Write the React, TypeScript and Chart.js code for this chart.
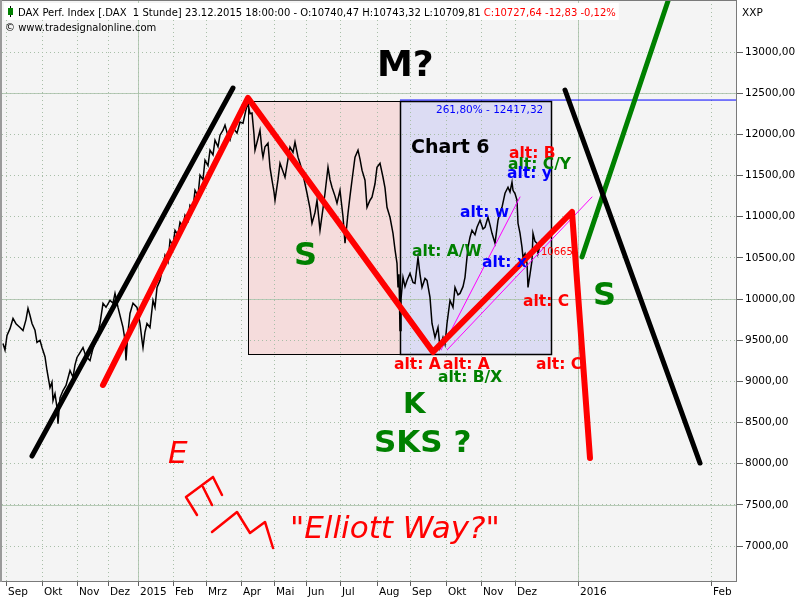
import React, { useEffect, useRef } from "react";
import { Chart, registerables } from "chart.js";

Chart.register(...registerables);

// ---- time axis (bar index) ----
const xTickPos = [6, 42, 77, 108, 138, 173, 206, 241, 274, 306, 340, 377, 410, 446, 481, 515, 578, 711];
const xTickLabels = ["Sep", "Okt", "Nov", "Dez", "2015", "Feb", "Mrz", "Apr", "Mai", "Jun", "Jul", "Aug", "Sep", "Okt", "Nov", "Dez", "2016", "Feb"];
const xYearStarts = [138, 578];

// ---- price axis ----
const yTicks = [7000, 7500, 8000, 8500, 9000, 9500, 10000, 10500, 11000, 11500, 12000, 12500, 13000];
const yMajor = [7500, 10000, 12500];

// ---- DAX hourly close ----
const priceX = [3, 5, 7, 10, 13, 16, 20, 23, 26, 28, 30, 32, 35, 37, 40, 42, 45, 47, 50, 52, 53, 55, 57, 58, 60, 63, 66, 70, 73, 75, 77, 80, 83, 86, 90, 93, 97, 100, 103, 106, 110, 113, 115, 118, 120, 123, 125, 126, 128, 130, 133, 137, 140, 142, 143, 145, 147, 150, 153, 155, 157, 160, 163, 165, 168, 170, 173, 175, 178, 180, 183, 185, 188, 190, 193, 195, 198, 200, 203, 205, 208, 210, 213, 215, 218, 220, 223, 225, 228, 230, 233, 237, 240, 243, 246, 248, 250, 252, 254, 255, 258, 260, 262, 263, 265, 268, 270, 272, 274, 275, 278, 280, 283, 285, 288, 290, 293, 295, 298, 300, 302, 305, 307, 310, 312, 315, 317, 320, 323, 325, 328, 330, 332, 335, 337, 340, 343, 345, 348, 350, 352, 355, 358, 360, 362, 365, 367, 370, 372, 375, 377, 380, 383, 385, 387, 390, 393, 395, 397, 398, 399, 400, 401, 403, 405, 407, 410, 413, 415, 418, 420, 422, 425, 427, 430, 432, 435, 438, 440, 443, 445, 447, 450, 453, 455, 458, 460, 463, 465, 468, 470, 472, 475, 477, 480, 483, 485, 488, 490, 492, 495, 498, 500, 502, 505, 508, 510, 512, 513, 515, 517, 518, 520, 522, 523, 525, 527, 528, 530, 532, 533, 535, 537, 538, 540, 542];
const priceY = [9460, 9380, 9557, 9640, 9764, 9700, 9655, 9618, 9750, 9886, 9800, 9703, 9620, 9472, 9500, 9411, 9300, 9132, 8925, 8990, 8767, 8850, 8682, 8487, 8800, 8888, 8950, 9132, 9050, 9200, 9290, 9350, 9411, 9300, 9253, 9400, 9533, 9700, 9947, 9900, 9983, 9950, 10068, 9898, 9800, 9655, 9500, 9253, 9600, 9825, 9950, 9898, 9700, 9497, 9411, 9600, 9703, 9655, 9983, 9900, 10141, 10226, 10400, 10531, 10450, 10713, 10650, 10835, 10780, 10932, 10880, 11017, 10950, 11139, 11100, 11321, 11250, 11504, 11450, 11686, 11620, 11808, 11750, 11930, 11850, 11990, 12050, 12112, 11980, 11930, 12080, 12015, 12150, 12136, 12300, 12380, 12250, 12258, 12000, 11808, 11950, 12051, 11800, 11723, 11850, 11893, 11600, 11443, 11300, 11200, 11450, 11650, 11550, 11479, 11700, 11844, 11780, 11905, 11723, 11650, 11565, 11400, 11285, 11100, 10920, 11050, 11200, 10835, 11100, 11285, 11601, 11450, 11358, 11250, 11163, 11321, 11000, 10677, 11042, 11250, 11443, 11723, 11808, 11700, 11565, 11443, 11114, 11200, 11236, 11400, 11601, 11650, 11479, 11350, 11114, 10993, 10798, 10600, 10433, 10141, 10300, 9618, 10000, 10263, 10150, 10226, 10312, 10200, 10190, 10506, 10300, 10141, 10250, 10226, 10020, 9703, 9533, 9655, 9411, 9533, 9450, 9703, 9983, 9900, 10141, 10050, 10068, 10150, 10263, 10628, 10750, 10835, 10780, 10871, 10956, 10850, 10871, 10993, 10900, 10798, 10677, 10956, 11050, 11114, 11285, 11358, 11300, 11419, 11321, 11280, 11200, 10920, 10800, 10628, 10506, 10550, 10433, 10141, 10300, 10470, 10798, 10700, 10677, 10555, 10650, 10728];

// ---- drawn trend lines ----
const redWaveX = [103, 248, 433, 572, 590];
const redWaveY = [8956, 12442, 9357, 11057, 8069];
const blackLeftX = [32, 233];
const blackLeftY = [8093, 12563];
const blackRightX = [565, 700];
const blackRightY = [12539, 8008];
const greenX = [582, 668];
const greenY = [10511, 13620];
const magentaAX = [441, 520];
const magentaAY = [9381, 11239];
const magentaBX = [447, 592];
const magentaBY = [9381, 11239];
const fiboX = [400, 737];
const fiboY = [12417, 12417];
// doodles: "E" and wave zigzag (null = pen up)
const doodleX = [186, 213, 213, 186, 197, 197, 203, 212, 212, 213, 222];
const doodleY = [7595, 7838, null, 7595, 7377, null, 7717, 7498, null, 7838, 7620];
const zigX = [212, 237, 250, 265, 273];
const zigY = [7170, 7413, 7158, 7292, 6976];

// ---- shaded zones ----
const zones = [
  { x0: 248, x1: 400, top: 12400, bottom: 9338, fill: "#f5dcdc" },
  { x0: 400, x1: 551, top: 12400, bottom: 9338, fill: "#dcdcf3" },
];

const RED = "#ff0000";
const GREEN = "#008000";
const BLUE = "#0000ff";
const FONT = '"DejaVu Sans", Verdana, sans-serif';

const notes = [
  { text: "M?", x: 377, y: 12709, color: "#000", font: "bold 36px" },
  { text: "Chart 6", x: 411, y: 11774, color: "#000", font: "bold 19px" },
  { text: "S", x: 294, y: 10413, color: GREEN, font: "bold 32px" },
  { text: "S", x: 593, y: 9927, color: GREEN, font: "bold 32px" },
  { text: "K", x: 403, y: 8616, color: GREEN, font: "bold 29px" },
  { text: "SKS ?", x: 374, y: 8142, color: GREEN, font: "bold 31px" },
  { text: "alt: B", x: 509, y: 11713, color: RED, font: "bold 15.5px" },
  { text: "alt: C/Y", x: 508, y: 11579, color: GREEN, font: "bold 15.5px" },
  { text: "alt: y", x: 507, y: 11470, color: BLUE, font: "bold 15.5px" },
  { text: "alt: w", x: 460, y: 10996, color: BLUE, font: "bold 15.5px" },
  { text: "alt: A/W", x: 412, y: 10523, color: GREEN, font: "bold 15.5px" },
  { text: "alt: x", x: 482, y: 10389, color: BLUE, font: "bold 15.5px" },
  { text: "alt: C", x: 523, y: 9915, color: RED, font: "bold 15.5px" },
  { text: "alt: A", x: 394, y: 9150, color: RED, font: "bold 15.5px" },
  { text: "alt: A", x: 443, y: 9150, color: RED, font: "bold 15.5px" },
  { text: "alt: B/X", x: 438, y: 8992, color: GREEN, font: "bold 15.5px" },
  { text: "alt: C", x: 536, y: 9150, color: RED, font: "bold 15.5px" },
  { text: "10665,", x: 541, y: 10535, color: RED, font: "10px" },
  { text: "261,80% - 12417,32", x: 436, y: 12259, color: BLUE, font: "10.5px" },
  { text: "E", x: 168, y: 8008, color: RED, font: "italic 31px" },
  { text: "\"Elliott Way?\"", x: 290, y: 7097, color: RED, font: "italic 31px" },
];

const headerBlack = "DAX Perf. Index [.DAX  1 Stunde] 23.12.2015 18:00:00 - O:10740,47 H:10743,32 L:10709,81 ";
const headerRed = "C:10727,64 -12,83 -0,12%";
const headerSub = "\u00a9 www.tradesignalonline.com";
const axisName = "XXP";

const pts = (xs: number[], ys: (number | null)[]) => xs.map((x, i) => ({ x, y: ys[i] }));

const decor = {
  id: "decor",
  beforeDraw(chart: any) {
    const { ctx, chartArea: a } = chart;
    const x = chart.scales.x;
    const y = chart.scales.y;
    ctx.save();
    ctx.fillStyle = "#ffffff";
    ctx.fillRect(0, 0, chart.width, chart.height);
    ctx.fillStyle = "#f4f4f4";
    ctx.fillRect(a.left, a.top, a.right - a.left, a.bottom - a.top);
    zones.forEach((z) => {
      const x0 = Math.round(x.getPixelForValue(z.x0));
      const x1 = Math.round(x.getPixelForValue(z.x1));
      const y0 = Math.round(y.getPixelForValue(z.top));
      const y1 = Math.round(y.getPixelForValue(z.bottom));
      ctx.fillStyle = z.fill;
      ctx.fillRect(x0, y0, x1 - x0, y1 - y0);
    });
    ctx.strokeStyle = "#b6cab6";
    ctx.lineWidth = 1;
    yMajor.forEach((v) => {
      const py = Math.round(y.getPixelForValue(v)) + 0.5;
      ctx.beginPath();
      ctx.moveTo(a.left, py);
      ctx.lineTo(a.right, py);
      ctx.stroke();
    });
    xYearStarts.forEach((v) => {
      const px = Math.round(x.getPixelForValue(v)) + 0.5;
      ctx.beginPath();
      ctx.moveTo(px, a.top);
      ctx.lineTo(px, a.bottom);
      ctx.stroke();
    });
    ctx.restore();
  },
  beforeDatasetsDraw(chart: any) {
    const { ctx } = chart;
    const x = chart.scales.x;
    const y = chart.scales.y;
    ctx.save();
    ctx.strokeStyle = "#000";
    zones.forEach((z, i) => {
      const x0 = Math.round(x.getPixelForValue(z.x0));
      const x1 = Math.round(x.getPixelForValue(z.x1));
      const y0 = Math.round(y.getPixelForValue(z.top));
      const y1 = Math.round(y.getPixelForValue(z.bottom));
      ctx.lineWidth = i === 1 ? 1.5 : 1;
      ctx.strokeRect(x0 + 0.5, y0 + 0.5, x1 - x0, y1 - y0);
    });
    ctx.restore();
  },
  afterDatasetsDraw(chart: any) {
    const { ctx } = chart;
    const x = chart.scales.x;
    const y = chart.scales.y;
    ctx.save();
    ctx.textAlign = "left";
    ctx.textBaseline = "alphabetic";
    notes.forEach((n) => {
      ctx.font = `${n.font} ${FONT}`;
      ctx.fillStyle = n.color;
      ctx.fillText(n.text, x.getPixelForValue(n.x), y.getPixelForValue(n.y));
    });
    ctx.restore();
  },
  afterDraw(chart: any) {
    const { ctx, chartArea: a } = chart;
    ctx.save();
    ctx.strokeStyle = "#7a7a7a";
    ctx.lineWidth = 1;
    ctx.strokeRect(a.left - 0.5, a.top + 0.5, a.right - a.left, a.bottom - a.top - 1);
    ctx.fillStyle = "#9a9a9a";
    ctx.fillRect(0, a.top, 2, a.bottom - a.top);
    // header
    ctx.font = `10px ${FONT}`;
    ctx.textBaseline = "alphabetic";
    const w1 = ctx.measureText(headerBlack).width;
    const w2 = ctx.measureText(headerRed).width;
    ctx.fillStyle = "#ffffff";
    ctx.fillRect(4, 3, 14 + w1 + w2 + 3, 17);
    ctx.fillStyle = "#000";
    ctx.fillRect(10, 6, 1, 11);
    ctx.fillStyle = "#008000";
    ctx.fillRect(8, 8, 5, 7);
    ctx.fillStyle = "#000";
    ctx.fillText(headerBlack, 18, 16);
    ctx.fillStyle = RED;
    ctx.fillText(headerRed, 18 + w1, 16);
    ctx.fillStyle = "#000";
    ctx.fillText(headerSub, 5, 31);
    ctx.font = `10.5px ${FONT}`;
    ctx.fillText(axisName, a.right + 5, 16);
    ctx.restore();
  },
};

export default function App() {
  const ref = useRef<HTMLCanvasElement>(null);
  useEffect(() => {
    document.body.style.margin = "0";
    const canvas = ref.current as HTMLCanvasElement;
    const base = { pointRadius: 0, fill: false, tension: 0, borderCapStyle: "round", borderJoinStyle: "round", spanGaps: false };
    const chart = new Chart(canvas, {
      type: "line",
      data: {
        datasets: [
          { ...base, label: "wave", data: pts(redWaveX, redWaveY), borderColor: RED, borderWidth: 6 },
          { ...base, label: "down", data: pts(blackRightX, blackRightY), borderColor: "#000", borderWidth: 5 },
          { ...base, label: "up", data: pts(greenX, greenY), borderColor: GREEN, borderWidth: 5 },
          { ...base, label: "trend", data: pts(blackLeftX, blackLeftY), borderColor: "#000", borderWidth: 5 },
          { ...base, label: "doodleE", data: pts(doodleX, doodleY), borderColor: RED, borderWidth: 2.5 },
          { ...base, label: "zig", data: pts(zigX, zigY), borderColor: RED, borderWidth: 2.5 },
          { ...base, label: "chA", data: pts(magentaAX, magentaAY), borderColor: "#ff00ff", borderWidth: 1 },
          { ...base, label: "chB", data: pts(magentaBX, magentaBY), borderColor: "#ff00ff", borderWidth: 1 },
          { ...base, label: "fibo", data: pts(fiboX, fiboY), borderColor: BLUE, borderWidth: 1, borderCapStyle: "butt" },
          { ...base, label: "DAX", data: pts(priceX, priceY), borderColor: "#000", borderWidth: 1.5, borderJoinStyle: "miter", borderCapStyle: "butt" },
        ] as any,
      },
      options: {
        animation: false,
        responsive: false,
        events: [],
        layout: { padding: { left: 2, top: 0, right: 0, bottom: 0 } },
        plugins: { legend: { display: false }, tooltip: { enabled: false } },
        scales: {
          x: {
            type: "linear",
            position: "bottom",
            min: 2,
            max: 737,
            afterBuildTicks: (s: any) => {
              s.ticks = xTickPos.map((v) => ({ value: v }));
            },
            afterFit: (s: any) => {
              s.height = 18;
              s.paddingLeft = 0;
              s.paddingRight = 0;
            },
            ticks: {
              autoSkip: false,
              maxRotation: 0,
              minRotation: 0,
              align: "start",
              labelOffset: 2,
              padding: 0,
              color: "#000",
              font: { family: FONT, size: 10.5 },
              callback: (_v: any, i: number) => xTickLabels[i],
            },
            grid: { color: "#a8bea8", lineWidth: 1, tickLength: 4, tickColor: "#606060", drawTicks: true },
            border: { display: false, dash: [1, 3] },
          },
          y: {
            type: "linear",
            position: "right",
            min: 6563,
            max: 13632,
            afterBuildTicks: (s: any) => {
              s.ticks = yTicks.map((v) => ({ value: v }));
            },
            afterFit: (s: any) => {
              s.width = 63;
              s.paddingTop = 0;
              s.paddingBottom = 0;
            },
            ticks: {
              padding: 2,
              color: "#000",
              font: { family: FONT, size: 10.5 },
              callback: (v: any) => Number(v).toFixed(2).replace(".", ","),
            },
            grid: { color: "#a8bea8", lineWidth: 1, tickLength: 6, tickColor: "#606060", drawTicks: true },
            border: { display: false, dash: [1, 3] },
          },
        },
      } as any,
      plugins: [decor],
    });
    return () => chart.destroy();
  }, []);
  return <canvas ref={ref} width={800} height={600} style={{ display: "block", width: 800, height: 600 }} />;
}
